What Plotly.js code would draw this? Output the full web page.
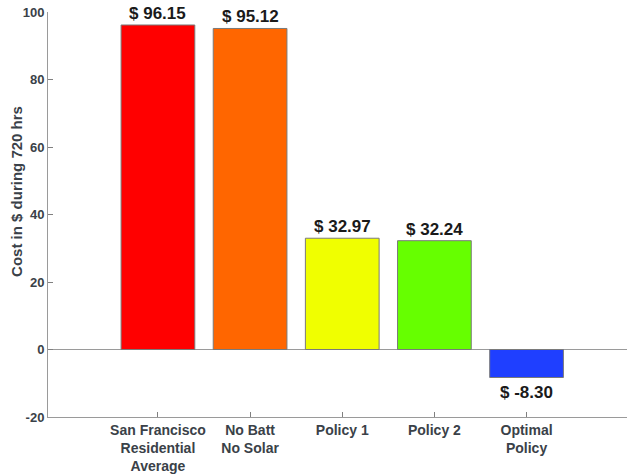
<!DOCTYPE html>
<html><head><meta charset="utf-8">
<script src="https://cdn.plot.ly/plotly-3.0.1.min.js"></script>
<style>html,body{margin:0;padding:0;background:#fff}</style>
</head><body><div id="chart" style="width:627px;height:474px"></div>
<script>
const categories = ["San Francisco<br>Residential<br>Average", "No Batt<br>No Solar", "Policy 1", "Policy 2", "Optimal<br>Policy"];
const costs = [96.15, 95.12, 32.97, 32.24, -8.30];
const barColors = ["#ff0000", "#ff6600", "#f0ff00", "#66ff00", "#1f3fff"];
const yTicks = [-20, 0, 20, 40, 60, 80, 100];
const yTickText = ["-20", "0", "20", "40", "60", "80", "100"];
const yTitle = "Cost in $ during 720 hrs";

const xs = categories.map((_, i) => i + 1);
const font = "'Liberation Sans', Arial, sans-serif";

const trace = {
  type: "bar", x: xs, y: costs, width: 0.8,
  marker: {color: barColors, line: {color: "#7a7a7a", width: 1}},
  hoverinfo: "none"
};

const annotations = costs.map((v, i) => ({
  x: xs[i], y: v, xref: "x", yref: "y",
  text: "<b>$ " + v.toFixed(2) + "</b>",
  showarrow: false,
  yanchor: v >= 0 ? "bottom" : "top",
  yshift: v >= 0 ? 0 : -3,
  font: {family: font, size: 17, color: "#1a1a1a"}
}));
annotations.push({
  xref: "paper", yref: "paper", x: -0.0544, y: 0.557,
  xanchor: "center", yanchor: "middle", textangle: -90,
  text: "<b>" + yTitle + "</b>", showarrow: false,
  font: {family: font, size: 15, color: "#3a4148"}
});

const layout = {
  width: 627, height: 474,
  margin: {l: 48, r: 0, t: 12, b: 57},
  paper_bgcolor: "#fff", plot_bgcolor: "#fff",
  showlegend: false,
  xaxis: {
    range: [-0.193, 6.09], tickvals: xs, ticktext: categories,
    ticks: "inside", ticklen: 5, tickcolor: "#808080",
    showline: true, linecolor: "#9a9a9a", linewidth: 1,
    showgrid: false, zeroline: false,
    tickfont: {family: font, size: 14, color: "#3a4148", weight: "bold"}
  },
  yaxis: {
    range: [-20, 100], tickvals: yTicks, ticktext: yTickText,
    ticks: "inside", ticklen: 5, tickcolor: "#808080",
    showline: true, linecolor: "#9a9a9a", linewidth: 1,
    showgrid: false, zeroline: true, zerolinecolor: "#9a9a9a", zerolinewidth: 1,
    tickfont: {family: font, size: 13, color: "#3a4148", weight: "bold"}
  },
  annotations: annotations
};

Plotly.newPlot("chart", [trace], layout, {displayModeBar: false, staticPlot: true});
</script></body></html>
